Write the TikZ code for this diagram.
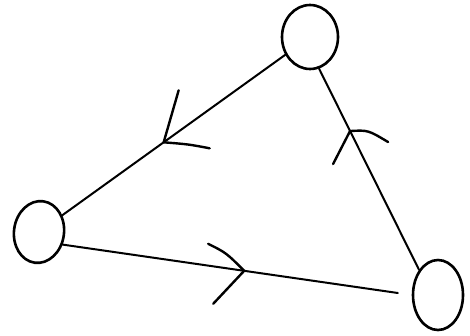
\documentclass[tikz,border=0pt]{standalone}
\usetikzlibrary{shapes.geometric,calc}
\begin{document}
\begin{tikzpicture}[x=1pt,y=-1pt,
  vertex/.style={draw, ellipse, line width=2.6pt, inner sep=0pt},
  edgeline/.style={line width=2pt, line cap=round},
  barb/.style={line width=2.4pt, line cap=round, line join=round}]
\fill[white] (0,0) rectangle (470,335);
\useasboundingbox (0,0) rectangle (470,335);
\node[vertex, minimum width=56pt, minimum height=64pt] (top) at (310,37) {};
\node[vertex, minimum width=50pt, minimum height=62pt, rotate=-8] (left) at (39,232) {};
\node[vertex, minimum width=50pt, minimum height=70pt] (br) at (438,295) {};
% connectors
\draw[edgeline] (top) -- (left);
\draw[edgeline, shorten >=14pt] (left.-20) -- (br.180);
\draw[edgeline] (br.127) -- (top.-74);
% arrowheads
\coordinate (t1) at ($(top)!0.54!(left)$);
\coordinate (t2) at ($(left.-20)!0.52!(br.180)$);
\coordinate (t3) at ($(br.127)!0.69!(top.-74)$);
\draw[barb] ($(t1)+(15,-52)$) -- (t1) .. controls ($(t1)+(25,2)$) .. ($(t1)+(46,6)$);
\draw[barb] ($(t2)+(-36,-27)$) .. controls ($(t2)+(-18,-18)$) .. (t2) -- ($(t2)+(-31,33)$);
\draw[barb] ($(t3)+(-17,33)$) -- (t3) .. controls ($(t3)+(18,-1)$) .. ($(t3)+(38,11)$);
\end{tikzpicture}
\end{document}
